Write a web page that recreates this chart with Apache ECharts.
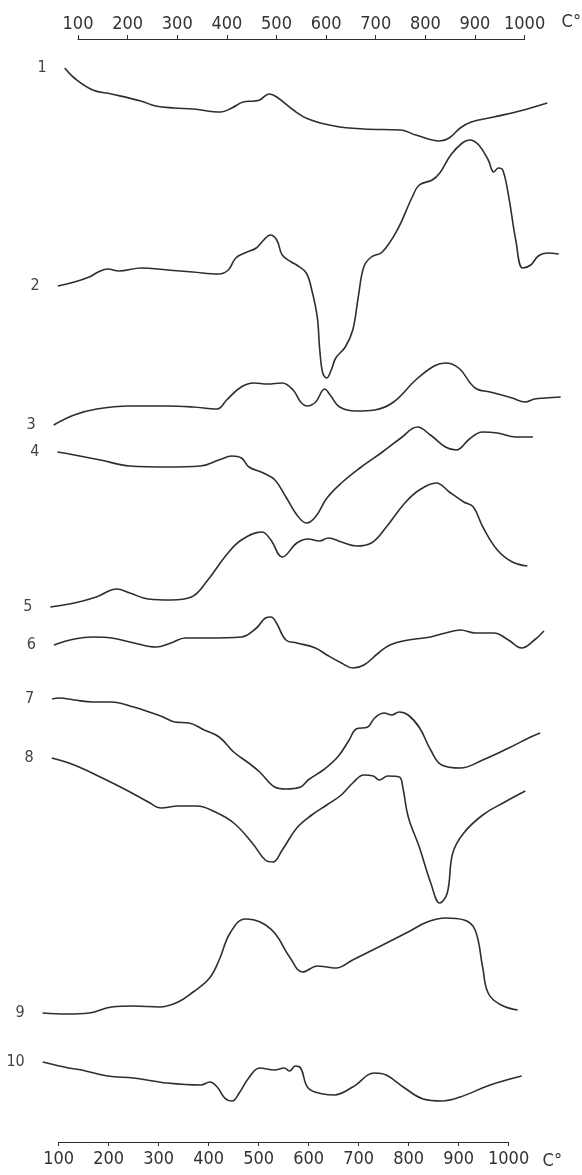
<!DOCTYPE html>
<html><head><meta charset="utf-8">
<script src="https://cdn.jsdelivr.net/npm/echarts@6/dist/echarts.min.js"></script>
<style>html,body{margin:0;padding:0;background:#fff}#c{width:582px;height:1175px}</style>
</head><body><div id="c"></div>
<script>
// ---- data: DTA curves, [temperature °C, deflection (arbitrary units, + = exothermic/up)]
const tempTicks = [100, 200, 300, 400, 500, 600, 700, 800, 900, 1000];
const unitLabel = 'C°';
const curveNames = ['1', '2', '3', '4', '5', '6', '7', '8', '9', '10'];

const curve1 = [[76,0],[95,-10],[132,-22],[169,-26],[228,-33],[258,-38],[295,-40],[332,-41],[388,-44],[410,-40],[433,-34],[455,-33],[466,-32],[485,-26],[500,-29],[533,-42],[563,-51],[615,-58],[674,-61],[748,-62],[778,-67],[826,-73],[845,-70],[867,-60],[889,-54],[934,-49],[986,-43],[1041,-35]];
const curve2 = [[68,0],[101,4],[131,9],[149,14],[168,17],[190,15],[235,18],[287,16],[338,14],[390,12],[409,16],[424,28],[442,33],[465,38],[480,46],[493,51],[506,46],[517,31],[535,24],[546,21],[565,13],[576,-4],[587,-31],[592,-64],[598,-87],[606,-92],[615,-84],[624,-72],[643,-61],[658,-44],[669,-11],[680,19],[695,29],[717,34],[747,56],[777,89],[791,101],[817,106],[832,113],[854,131],[877,143],[892,146],[910,141],[929,126],[940,114],[949,118],[958,116],[970,89],[984,46],[998,18],[1014,21],[1029,30],[1047,33],[1070,32]];
const curve3 = [[64,0],[105,10],[150,16],[216,19],[291,19],[343,18],[391,16],[410,25],[439,38],[465,42],[491,41],[521,42],[543,35],[558,23],[571,19],[588,23],[606,36],[617,30],[636,18],[669,14],[706,15],[744,23],[788,45],[825,59],[848,62],[874,57],[907,37],[937,33],[981,27],[1007,23],[1026,26],[1048,27],[1078,28]];
const curve4 = [[74,0],[108,-3],[160,-8],[219,-14],[293,-15],[360,-14],[397,-8],[423,-4],[442,-6],[457,-15],[486,-21],[509,-28],[531,-45],[553,-63],[572,-71],[590,-65],[613,-46],[642,-31],[679,-16],[724,0],[761,14],[794,25],[820,17],[850,5],[872,2],[898,13],[924,20],[954,19],[991,15],[1025,15]];
const curve5 = [[63,0],[111,4],[155,10],[196,18],[222,14],[259,8],[304,7],[345,10],[378,27],[415,52],[445,67],[486,75],[504,67],[527,50],[556,64],[579,68],[601,66],[619,69],[645,65],[675,61],[705,64],[735,80],[772,104],[801,117],[835,124],[861,115],[890,105],[909,100],[928,80],[957,57],[987,45],[1017,41]];
const curve6 = [[73,0],[114,6],[151,8],[188,7],[233,2],[277,-2],[307,2],[336,7],[381,7],[448,8],[478,17],[496,27],[507,28],[518,22],[537,5],[559,2],[596,-3],[619,-10],[648,-18],[671,-23],[693,-20],[722,-8],[745,0],[782,5],[826,8],[856,12],[886,15],[916,12],[953,12],[982,5],[1008,-3],[1034,5],[1053,14]];
const curve7 = [[73,0],[87,1],[117,-1],[154,-3],[191,-3],[236,-8],[273,-14],[295,-18],[318,-23],[347,-24],[377,-31],[407,-38],[436,-53],[466,-64],[488,-73],[518,-88],[540,-90],[570,-88],[585,-81],[615,-71],[644,-58],[667,-41],[681,-30],[704,-28],[718,-19],[737,-14],[752,-16],[767,-13],[785,-16],[808,-29],[830,-51],[852,-66],[889,-69],[934,-61],[986,-49],[1030,-38],[1049,-34]];
const curve8 = [[75,0],[120,-7],[172,-19],[224,-32],[268,-44],[294,-50],[328,-48],[365,-48],[402,-54],[439,-65],[476,-85],[502,-102],[517,-104],[536,-92],[565,-70],[595,-57],[625,-47],[654,-37],[677,-25],[699,-17],[718,-18],[730,-22],[747,-18],[770,-19],[777,-29],[788,-59],[810,-89],[833,-125],[851,-145],[866,-135],[877,-95],[899,-75],[937,-57],[981,-44],[1022,-33]];
const curve9 = [[62,0],[110,-1],[155,0],[200,6],[244,7],[296,6],[333,11],[363,21],[396,35],[415,53],[437,80],[467,94],[497,91],[526,80],[556,56],[582,41],[612,47],[630,46],[649,45],[682,53],[742,68],[793,81],[831,91],[868,95],[905,93],[927,83],[942,46],[953,20],[979,8],[1012,3]];
const curve10 = [[66,0],[118,-6],[144,-8],[196,-14],[248,-16],[315,-21],[382,-23],[400,-20],[415,-25],[430,-36],[445,-39],[459,-31],[478,-16],[500,-6],[530,-8],[549,-6],[560,-9],[571,-4],[582,-6],[597,-26],[627,-32],[649,-33],[686,-25],[730,-11],[753,-13],[790,-26],[827,-37],[864,-39],[901,-35],[961,-23],[1024,-14]];
const curves = [curve1, curve2, curve3, curve4, curve5, curve6, curve7, curve8, curve9, curve10];

// ---- layout (page is slightly skewed: the 100° mark drifts left going down)
const FONT = "'Liberation Sans Narrow','DejaVu Sans Condensed',sans-serif";
const INK = '#2e2e2e';
const PX_PER_DEG = 0.5;
const topAxis = { y: 39, x100: 78 };
const bottomAxis = { y: 1142, x100: 58.6 };
const baselineY = [68, 286, 425, 452, 607, 645, 699, 758, 1013, 1062];
const skewRefY  = [110, 280, 400, 470, 560, 640, 740, 820, 970, 1080];
const HALF = 160;

const dom = document.getElementById('c');
const H = dom.clientHeight;

function x100At(y) {
  return topAxis.x100 + (bottomAxis.x100 - topAxis.x100) * (y - topAxis.y) / (bottomAxis.y - topAxis.y);
}

const grids = [], xAxes = [], yAxes = [], series = [];
const axisLen = (tempTicks[tempTicks.length - 1] - tempTicks[0]) * PX_PER_DEG;
function scaleAxis(idx, pos, ax) {
  const isTop = pos === 'top';
  grids.push({ left: ax.x100, width: axisLen, top: isTop ? ax.y : ax.y - 50, height: 50 });
  xAxes.push({
    gridIndex: idx, type: 'value', position: pos,
    min: tempTicks[0], max: tempTicks[tempTicks.length - 1], interval: 100,
    axisLine: { show: true, onZero: false, lineStyle: { color: INK, width: 1.2 } },
    axisTick: { show: true, length: 4, lineStyle: { color: INK, width: 1 } },
    splitLine: { show: false },
    axisLabel: { color: '#333', fontSize: 18, fontFamily: FONT, margin: isTop ? 6 : 8,
      formatter: v => String(v) },
    name: unitLabel, nameLocation: 'end', nameGap: isTop ? 37 : 34,
    nameTextStyle: { color: '#333', fontSize: 18, fontFamily: FONT,
      align: 'left', verticalAlign: isTop ? 'bottom' : 'top',
      padding: isTop ? [0, 0, 8, 0] : [10, 0, 0, 0] }
  });
  yAxes.push({ gridIndex: idx, type: 'value', show: false });
}
scaleAxis(0, 'top', topAxis);
scaleAxis(1, 'bottom', bottomAxis);

curves.forEach((c, i) => {
  const gi = i + 2;
  const zeroX = x100At(skewRefY[i]) - 100 * PX_PER_DEG;
  const up = Math.min(HALF, baselineY[i] - 2);
  const down = Math.min(HALF, H - baselineY[i] - 2);
  grids.push({ left: zeroX, width: 1100 * PX_PER_DEG, top: baselineY[i] - up, height: up + down });
  xAxes.push({ gridIndex: gi, type: 'value', min: 0, max: 1100, show: false });
  yAxes.push({ gridIndex: gi, type: 'value', min: -down, max: up, show: false });
  series.push({
    type: 'line', xAxisIndex: gi, yAxisIndex: gi, smooth: 0.4, clip: false,
    showSymbol: true, symbol: 'circle', symbolSize: 0, silent: true,
    lineStyle: { color: INK, width: 1.6 },
    label: { show: false },
    data: c.map((p, j) => j === 0 ? {
      value: p,
      label: { show: true, position: 'left', distance: 18, formatter: curveNames[i],
        color: '#444', fontSize: 16, fontFamily: FONT }
    } : p)
  });
});

const chart = echarts.init(dom, null, { renderer: 'canvas' });
chart.setOption({
  animation: false,
  backgroundColor: '#fff',
  grid: grids, xAxis: xAxes, yAxis: yAxes, series: series
});
</script>
</body></html>
